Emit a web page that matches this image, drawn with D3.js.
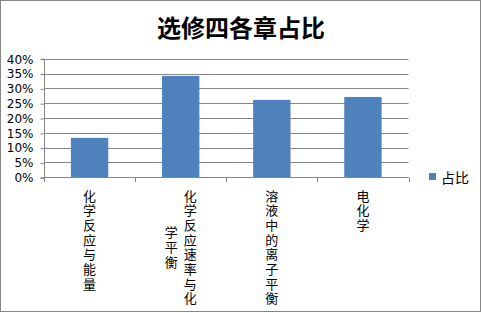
<!DOCTYPE html>
<meta charset="utf-8">
<script src="https://d3js.org/d3.v7.min.js"></script>
<style>
  body { margin: 0; background: #fff; }
  text { font-family: "Noto Sans CJK SC", sans-serif; fill: #000; }
</style>
<svg id="chart" width="481" height="313"></svg>
<script>

  // data
  var title = "选修四各章占比"
  var categories = ["化学反应与能量", "化学反应速率与化学平衡", "溶液中的离子平衡", "电化学"]
  var values = [0.133, 0.342, 0.261, 0.271]
  var yTicks = [0, 0.05, 0.10, 0.15, 0.20, 0.25, 0.30, 0.35, 0.40]
  var seriesName = "占比"

  var svg = d3.select("#chart")
  var gray = "#868686"
  var blue = "#4f81bd"

  // outer frame
  svg.append("rect")
    .attr("x", 0.5).attr("y", 0.5)
    .attr("width", 480).attr("height", 311)
    .attr("fill", "#fff")
    .attr("stroke", gray)

  svg.append("text")
    .attr("x", 241).attr("y", 26)
    .attr("text-anchor", "middle")
    .attr("dominant-baseline", "central")
    .style("font-size", "24px")
    .style("font-weight", "bold")
    .text(title)

  var x = d3.scaleBand()
    .domain(categories)
    .range([44, 408.5])
    .paddingInner(0.59)
    .paddingOuter(0.295)

  var y = d3.scaleLinear()
    .domain([0, 0.40])
    .range([177.3, 58.7])

  // gridlines
  svg.append("g")
    .selectAll("line")
    .data(yTicks)
    .join("line")
      .attr("x1", 44).attr("x2", 408.5)
      .attr("y1", function(d){ return Math.round(y(d)) + 0.5 })
      .attr("y2", function(d){ return Math.round(y(d)) + 0.5 })
      .attr("stroke", gray)

  // y axis
  var yAxis = svg.append("g")
    .attr("transform", "translate(44.5,0.5)")
    .call(d3.axisLeft(y).tickValues(yTicks).tickSize(4).tickPadding(7)
      .tickFormat(function(d){ return Math.round(d * 100) + "%" }))
  yAxis.selectAll("line, path").attr("stroke", gray)
  yAxis.select(".domain").attr("d", "M-4," + y(0.40) + "H0V" + y(0) + "H-4")
  yAxis.selectAll("text")
    .style("font-family", "'DejaVu Sans', sans-serif")
    .style("font-size", "12px")
    .attr("fill", "#000")

  // bars
  svg.append("g")
    .selectAll("rect")
    .data(values)
    .join("rect")
      .attr("x", function(d, i){ return x(categories[i]) })
      .attr("width", x.bandwidth())
      .attr("y", function(d){ return y(d) })
      .attr("height", function(d){ return y(0) - y(d) })
      .attr("fill", blue)

  // x axis line and category ticks
  var step = x.step()
  var xTickPos = d3.range(5).map(function(k){ return 44 + k * step })
  svg.append("line")
    .attr("x1", 44).attr("x2", 408.5)
    .attr("y1", 177.5).attr("y2", 177.5)
    .attr("stroke", gray)
  svg.append("g")
    .selectAll("line")
    .data(xTickPos)
    .join("line")
      .attr("x1", function(d){ return Math.round(d) + 0.5 })
      .attr("x2", function(d){ return Math.round(d) + 0.5 })
      .attr("y1", 177.5).attr("y2", 182)
      .attr("stroke", gray)

  // vertical category labels, stacked characters, 8 per column
  var pitch = 14.7, maxPerCol = 8, colGap = 19
  categories.forEach(function(cat) {
    var chars = Array.from(cat)
    var cols = []
    for (var k = 0; k < chars.length; k += maxPerCol) cols.push(chars.slice(k, k + maxPerCol))
    var longest = d3.max(cols, function(c){ return c.length })
    var cx = x(cat) + x.bandwidth() / 2
    cols.forEach(function(col, j) {
      var colX = cx + ((cols.length - 1) / 2 - j) * colGap
      var offset = (longest - col.length) / 2 * pitch
      svg.append("g")
        .selectAll("text")
        .data(col)
        .join("text")
          .attr("x", colX)
          .attr("y", function(d, n){ return 195 + offset + n * pitch })
          .attr("text-anchor", "middle")
          .attr("dominant-baseline", "central")
          .style("font-size", "13px")
          .text(function(d){ return d })
    })
  })

  // legend
  svg.append("rect")
    .attr("x", 429).attr("y", 173)
    .attr("width", 7).attr("height", 7)
    .attr("fill", blue)
  svg.append("text")
    .attr("x", 441).attr("y", 177)
    .attr("dominant-baseline", "central")
    .style("font-size", "14px")
    .text(seriesName)

</script>
